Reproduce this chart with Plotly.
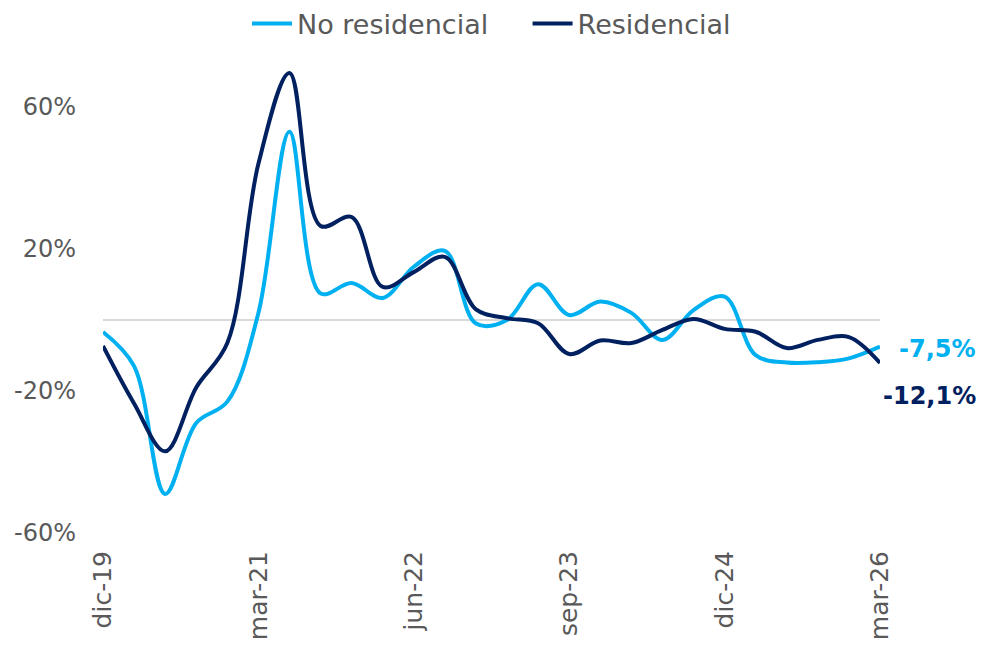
import plotly.graph_objects as go

# quarterly periods, dic-19 .. mar-26
quarters = [
    "dic-19", "mar-20", "jun-20", "sep-20", "dic-20", "mar-21", "jun-21",
    "sep-21", "dic-21", "mar-22", "jun-22", "sep-22", "dic-22", "mar-23",
    "jun-23", "sep-23", "dic-23", "mar-24", "jun-24", "sep-24", "dic-24",
    "mar-25", "jun-25", "sep-25", "dic-25", "mar-26",
]
no_residencial = [
    -3.4, -13, -49, -29, -23, 2, 53, 7.5, 10.4, 6.2, 15, 19.5, -1.0, 0,
    10.1, 1.4, 5.2, 2, -5.6, 2.8, 6.6, -9.9, -12, -11.9, -10.8, -7.5,
]
residencial = [
    -7.3, -23.5, -37, -19, -6.5, 44, 69.6, 26.5, 29, 9.3, 13.5, 17.8, 3, 0.5,
    -0.9, -9.6, -5.8, -6.5, -2.8, 0.3, -2.5, -3.3, -7.9, -5.6, -4.8, -12.1,
]
x_ticks = ["dic-19", "mar-21", "jun-22", "sep-23", "dic-24", "mar-26"]
y_ticks = [-60, -20, 20, 60]
y_labels = ["-60%", "-20%", "20%", "60%"]

LIGHT = "#00B0F0"
DARK = "#002060"
GREY = "#595959"
FONT = "DejaVu Sans, sans-serif"
NBSP = "\u00a0"

fig = go.Figure()
fig.add_trace(go.Scatter(
    x=quarters, y=no_residencial, name="No residencial" + NBSP * 4, mode="lines",
    line=dict(color=LIGHT, width=4, shape="spline", smoothing=1.0),
))
fig.add_trace(go.Scatter(
    x=quarters, y=residencial, name="Residencial", mode="lines",
    line=dict(color=DARK, width=4, shape="spline", smoothing=1.0),
))

# end-of-series value labels
fig.add_annotation(
    x=quarters[-1], y=no_residencial[-1], text="<b>-7,5%</b>",
    showarrow=False, xanchor="right", xshift=98, yshift=-2,
    font=dict(color=LIGHT, size=24, family=FONT),
)
fig.add_annotation(
    x=quarters[-1], y=residencial[-1], text="<b>-12,1%</b>",
    showarrow=False, xanchor="right", xshift=98, yshift=-33,
    font=dict(color=DARK, size=24, family=FONT),
)

# page body adds an 8px offset, so the figure is a bit smaller than the window
fig.update_layout(
    width=979, height=638,
    margin=dict(l=95, r=107, t=28, b=113, autoexpand=False),
    paper_bgcolor="white", plot_bgcolor="white",
    font=dict(family=FONT, color=GREY, size=22),
    legend=dict(
        orientation="h", x=0.5, xanchor="center", y=1 - 16 / 638,
        yanchor="middle", yref="container", font=dict(size=27, color=GREY),
        itemwidth=40, traceorder="normal",
    ),
    showlegend=True,
)
fig.update_xaxes(
    type="category", range=[0, len(quarters) - 1], automargin=False,
    tickvals=x_ticks, tickangle=-90, showgrid=False, showline=False,
    ticks="", ticklabelstandoff=12, tickfont=dict(size=25, color=GREY),
)
fig.update_yaxes(
    range=[-60, 80], tickvals=y_ticks, ticktext=y_labels, automargin=False,
    showgrid=False, zeroline=True, zerolinecolor="#D9D9D9", zerolinewidth=1.5,
    showline=False, ticks="", ticklabelstandoff=26,
    tickfont=dict(size=24, color=GREY),
)

fig.write_html("out.html")
